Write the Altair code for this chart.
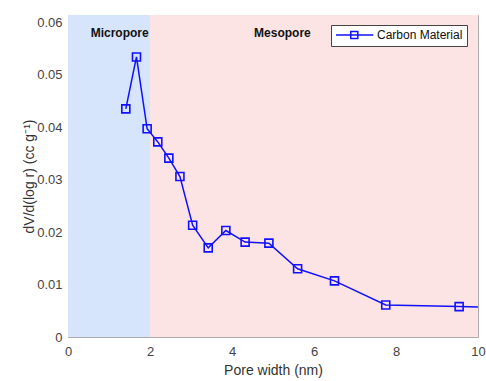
import altair as alt
import pandas as pd

pore_width = [1.41, 1.67, 1.93, 2.19, 2.46, 2.73, 3.04, 3.42, 3.85, 4.32, 4.90, 5.60, 6.50, 7.75, 9.54, 12.0]
dv = [0.0435, 0.0534, 0.0397, 0.0372, 0.0341, 0.0306, 0.0213, 0.0170, 0.0203, 0.0181, 0.0179, 0.0130, 0.0107, 0.0061, 0.0058, 0.0053]
series = "Carbon Material"

region_names = ["Micropore", "Mesopore"]
region_start = [0, 2]
region_end = [2, 10]
region_colors = ["#d6e4fc", "#fde4e4"]
label_x = [1.26, 5.23]
label_y = [0.0580, 0.0580]

X_DOMAIN = [0, 10]
Y_DOMAIN = [0, 0.0614]

df = pd.DataFrame({"x": pore_width, "y": dv, "s": [series] * len(dv)})
regions = pd.DataFrame({"name": region_names, "x0": region_start, "x1": region_end,
                        "y0": [0, 0], "y1": [Y_DOMAIN[1]] * 2,
                        "lx": label_x, "ly": label_y})

xscale = alt.Scale(domain=X_DOMAIN, nice=False, zero=False)
yscale = alt.Scale(domain=Y_DOMAIN, nice=False)

xaxis = alt.Axis(title="Pore width (nm)", values=[0, 2, 4, 6, 8, 10], ticks=False, grid=False,
                 domain=False, labelPadding=8, labelFontSize=13, titleFontSize=14,
                 labelColor="#444", titleColor="#333", titlePadding=5, labelFont="Liberation Sans",
                 titleFont="Liberation Sans", titleFontWeight="normal", labelFlush=False)
yaxis = alt.Axis(title="dV/d(log r) (cc g⁻¹)", values=[0, 0.01, 0.02, 0.03, 0.04, 0.05, 0.06],
                 ticks=False, grid=False, domain=False, labelPadding=6, labelFontSize=13,
                 titleFontSize=14, labelColor="#444", titleColor="#333", titlePadding=0,
                 labelFont="Liberation Sans", titleFont="Liberation Sans", titleFontWeight="normal",
                 labelFlush=False,
                 labelExpr="datum.value == 0 ? '0' : format(datum.value, '.2f')")

rects = alt.Chart(regions).mark_rect().encode(
    x=alt.X("x0:Q", scale=xscale, axis=xaxis),
    x2="x1:Q",
    y=alt.Y("y0:Q", scale=yscale, axis=yaxis),
    y2="y1:Q",
    color=alt.Color("name:N", scale=alt.Scale(domain=region_names, range=region_colors), legend=None),
)

labels = alt.Chart(regions).mark_text(fontWeight="bold", fontSize=12, font="Liberation Sans",
                                      color="#111").encode(
    x=alt.X("lx:Q", scale=xscale),
    y=alt.Y("ly:Q", scale=yscale),
    text="name:N",
)

sym = "M-1,0L6.46,0M1.96,-0.7L3.36,-0.7L3.36,0.7L1.96,0.7Z"

line = alt.Chart(df).mark_line(color="#1010ff", strokeWidth=1.5, clip=True).encode(
    x=alt.X("x:Q", scale=xscale),
    y=alt.Y("y:Q", scale=yscale),
)
points = alt.Chart(df).mark_point(shape="square", size=64, filled=False, strokeWidth=1.6,
                                  clip=True, opacity=1).encode(
    x=alt.X("x:Q", scale=xscale),
    y=alt.Y("y:Q", scale=yscale),
    stroke=alt.Stroke("s:N", scale=alt.Scale(range=["#1010ff"]),
                      legend=alt.Legend(title=None, orient="none", legendX=263, legendY=10,
                                        symbolType=sym, symbolSize=100, symbolStrokeWidth=1.5,
                                        symbolFillColor="transparent",
                                        labelFontSize=12, labelFont="Liberation Sans",
                                        labelColor="#111", strokeColor="#444", fillColor="white",
                                        padding=4, labelOffset=30)),
)

chart = alt.layer(rects, labels, line, points).properties(
    width=410, height=322,
    padding={"left": 68, "top": 15, "right": 8, "bottom": 44},
    autosize=alt.AutoSizeParams(type="none"),
).configure_view(stroke="#aaa", strokeWidth=1)

chart.save("out.html", embed_options={"renderer": "svg", "actions": False})
